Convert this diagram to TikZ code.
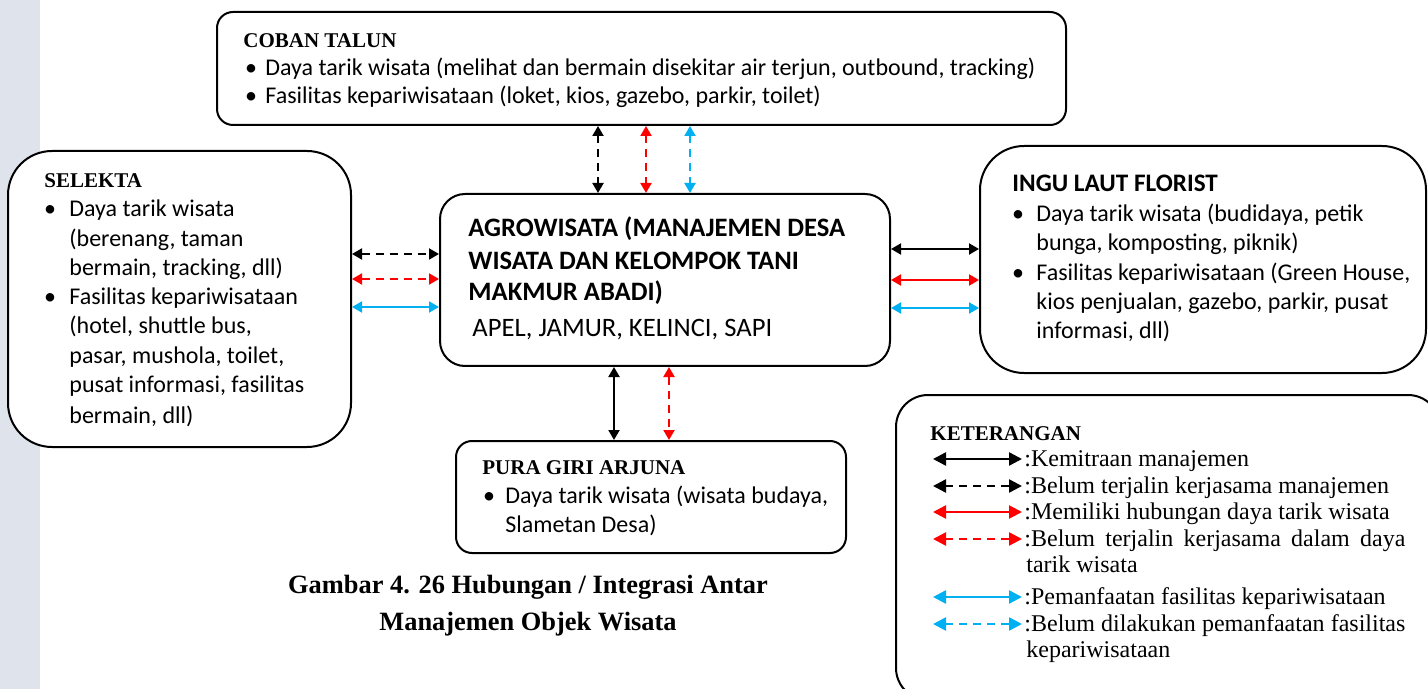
\documentclass[tikz,border=0pt]{standalone}
\usepackage{fontspec}
\setmainfont{Liberation Serif}
\newfontfamily\calfont{Carlito}
\usetikzlibrary{arrows.meta}
\definecolor{myblue}{RGB}{0,176,240}
\definecolor{myred}{RGB}{255,0,0}
\definecolor{stripe}{RGB}{222,227,236}
\tikzset{
  box/.style={draw=black, line width=1pt, fill=white, inner sep=0pt},
  txt/.style={anchor=base west, inner sep=0pt, font=\calfont\fontsize{12}{14}\selectfont},
  hdr/.style={anchor=base west, inner sep=0pt, font=\calfont\bfseries\fontsize{13.3}{15}\selectfont},
  ttl/.style={anchor=base west, inner sep=0pt, font=\bfseries\fontsize{10.5}{12}\selectfont},
  leg/.style={anchor=base west, inner sep=0pt, font=\fontsize{12}{14}\selectfont},
  bul/.style={anchor=base, inner sep=0pt, font=\calfont\fontsize{12}{14}\selectfont},
  arr/.style={line width=1pt, {Triangle[length=5pt,width=5.5pt]}-{Triangle[length=5pt,width=5.5pt]}},
  legarr/.style={line width=1.2pt, {Triangle[length=6.5pt,width=6.5pt]}-{Triangle[length=6.5pt,width=6.5pt]}},
  dsh/.style={dash pattern=on 4pt off 3pt}
}
\begin{document}
\begin{tikzpicture}[x=0.5pt,y=-0.5pt]
\clip (0,0) rectangle (1428,689);
\useasboundingbox (0,0) rectangle (1428,689);
\fill[stripe] (0,0) rectangle (40,689);
% boxes
\node[box, rounded corners=8pt, minimum width=424.5pt, minimum height=56.5pt] (coban) at (641.5,68.5) {};
\node[box, rounded corners=22pt, minimum width=171.5pt, minimum height=148pt] (selekta) at (179.5,299) {};
\node[box, rounded corners=12.5pt, minimum width=225pt, minimum height=86pt] (agro) at (665,280) {};
\node[box, rounded corners=22pt, minimum width=223pt, minimum height=113.5pt] (ingu) at (1203,259.5) {};
\node[box, rounded corners=8pt, minimum width=195pt, minimum height=56pt] (pura) at (651,497) {};
\node[box, rounded corners=16pt, minimum width=272pt, minimum height=152.5pt] (ket) at (1168,547.5) {};
% coban text
\node[ttl] (cobant) at (243,48) {COBAN TALUN};
\node[bul] (cb1) at (251,76) {•};
\node[txt] (ct1) at (265,76) {Daya tarik wisata (melihat dan bermain disekitar air terjun, outbound, tracking)};
\node[bul] (cb2) at (251,104) {•};
\node[txt] (ct2) at (265,104) {Fasilitas kepariwisataan (loket, kios, gazebo, parkir, toilet)};
% selekta text
\node[ttl] (selt) at (44,188) {SELEKTA};
\node[bul] (sb1) at (50,217) {•};
\node[txt] (s1) at (69,217) {Daya tarik wisata};
\node[txt] (s2) at (69,247) {(berenang, taman};
\node[txt] (s3) at (69,276) {bermain, tracking, dll)};
\node[bul] (sb2) at (50,305) {•};
\node[txt] (s4) at (69,305) {Fasilitas kepariwisataan};
\node[txt] (s5) at (69,334) {(hotel, shuttle bus,};
\node[txt] (s6) at (69,364) {pasar, mushola, toilet,};
\node[txt] (s7) at (69,393) {pusat informasi, fasilitas};
\node[txt] (s8) at (69,423) {bermain, dll)};
% agro text
\node[hdr] (a1) at (468,237) {AGROWISATA (MANAJEMEN DESA};
\node[hdr] (a2) at (468,270) {WISATA DAN KELOMPOK TANI};
\node[hdr] (a3) at (468,301) {MAKMUR ABADI)};
\node[anchor=base west, inner sep=0pt, font=\calfont\fontsize{13.3}{15}\selectfont] (a4) at (472,336) {APEL, JAMUR, KELINCI, SAPI};
% ingu text
\node[anchor=base west, inner sep=0pt, font=\calfont\bfseries\fontsize{12.6}{14}\selectfont] (ingt) at (1012,192) {INGU LAUT FLORIST};
\node[bul] (ib1) at (1018,222) {•};
\node[txt] (i1) at (1036,222) {Daya tarik wisata (budidaya, petik};
\node[txt] (i2) at (1036,251) {bunga, komposting, piknik)};
\node[bul] (ib2) at (1018,281) {•};
\node[txt] (i3) at (1036,281) {Fasilitas kepariwisataan (Green House,};
\node[txt] (i4) at (1036,310) {kios penjualan, gazebo, parkir, pusat};
\node[txt] (i5) at (1036,339) {informasi, dll)};
% pura text
\node[ttl] (purat) at (482,474) {PURA GIRI ARJUNA};
\node[bul] (pb1) at (489,503) {•};
\node[txt] (p1) at (505,503) {Daya tarik wisata (wisata budaya,};
\node[txt] (p2) at (505,532) {Slametan Desa)};
% caption
\node[anchor=base, inner sep=0pt, font=\bfseries\fontsize{13.2}{15}\selectfont] (cap1) at (528,593) {Gambar 4. 26 Hubungan / Integrasi Antar};
\node[anchor=base, inner sep=0pt, font=\bfseries\fontsize{13.2}{15}\selectfont] (cap2) at (528,630) {Manajemen Objek Wisata};
% keterangan
\node[ttl] (kett) at (930,440) {KETERANGAN};
\coordinate (l1a) at (933,459); \coordinate (l1b) at (1022,459);
\coordinate (l2a) at (933,486); \coordinate (l2b) at (1022,486);
\coordinate (l3a) at (933,512); \coordinate (l3b) at (1022,512);
\coordinate (l4a) at (933,539); \coordinate (l4b) at (1022,539);
\coordinate (l5a) at (933,597); \coordinate (l5b) at (1022,597);
\coordinate (l6a) at (933,624); \coordinate (l6b) at (1022,624);
\draw[legarr] (l1a) -- (l1b);
\draw[legarr, dsh] (l2a) -- (l2b);
\draw[legarr, myred] (l3a) -- (l3b);
\draw[legarr, myred, dsh] (l4a) -- (l4b);
\draw[legarr, myblue] (l5a) -- (l5b);
\draw[legarr, myblue, dsh] (l6a) -- (l6b);
\node[leg] (k1) at (1024,466) {:Kemitraan manajemen};
\node[leg] (k2) at (1024,493) {:Belum terjalin kerjasama manajemen};
\node[leg] (k3) at (1024,519) {:Memiliki hubungan daya tarik wisata};
\node[leg] (k4) at (1024,546) {\makebox[190.5pt][s]{:Belum terjalin kerjasama dalam daya}};
\node[leg] (k4b) at (1026,572) {tarik wisata};
\node[leg] (k5) at (1024,604) {:Pemanfaatan fasilitas kepariwisataan};
\node[leg] (k6) at (1024,631) {\makebox[190.5pt][s]{:Belum dilakukan pemanfaatan fasilitas}};
\node[leg] (k6b) at (1026,657) {kepariwisataan};
% connectors coban-agro
\draw[arr, dsh] (coban.south -| 598,0) -- (agro.north -| 598,0);
\draw[arr, dsh, myred] (coban.south -| 646,0) -- (agro.north -| 646,0);
\draw[arr, dsh, myblue] (coban.south -| 690,0) -- (agro.north -| 690,0);
% selekta-agro
\draw[arr, dsh] (selekta.east |- 0,254) -- (agro.west |- 0,254);
\draw[arr, dsh, myred] (selekta.east |- 0,279) -- (agro.west |- 0,279);
\draw[arr, myblue] (selekta.east |- 0,307) -- (agro.west |- 0,307);
% agro-ingu
\draw[arr] (agro.east |- 0,249) -- (ingu.west |- 0,249);
\draw[arr, myred] (agro.east |- 0,280) -- (ingu.west |- 0,280);
\draw[arr, myblue] (agro.east |- 0,308) -- (ingu.west |- 0,308);
% agro-pura
\draw[arr] (agro.south -| 614,0) -- (pura.north -| 614,0);
\draw[arr, dsh, myred] (agro.south -| 669,0) -- (pura.north -| 669,0);
\end{tikzpicture}
\end{document}
